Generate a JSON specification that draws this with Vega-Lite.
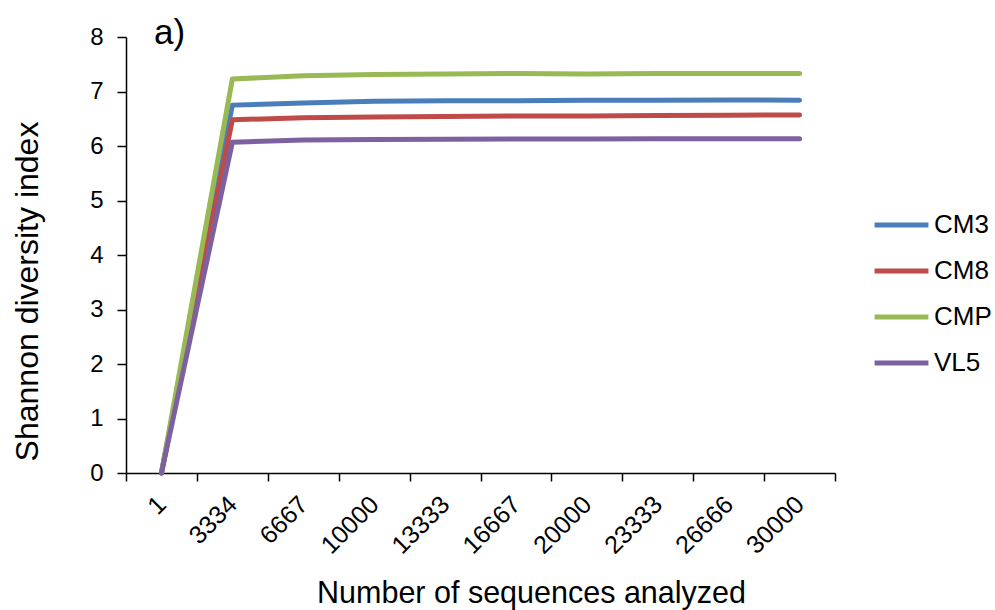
{
  "$schema": "https://vega.github.io/schema/vega-lite/v6.json",
  "autosize": "none",
  "width": 709,
  "height": 436,
  "padding": {"left": 126, "top": 37, "right": 160, "bottom": 137},
  "background": "white",
  "config": {
    "view": {"stroke": null},
    "font": "Liberation Sans",
    "axis": {"grid": false, "domainColor": "black", "tickColor": "black", "labelColor": "black", "titleColor": "black", "labelFont": "Liberation Sans", "titleFont": "Liberation Sans", "titleFontWeight": "normal", "domainWidth": 1.5, "tickWidth": 1.5, "labelOverlap": false}
  },
  "title": {"text": "a)", "anchor": "start", "frame": "group", "dx": 28, "offset": -26, "fontSize": 35, "fontWeight": "normal", "font": "Liberation Sans", "color": "black"},
  "data": {"values": [
    {"series": "CM3", "n": "1", "v": 0},
    {"series": "CM3", "n": "3334", "v": 6.75},
    {"series": "CM3", "n": "6667", "v": 6.79},
    {"series": "CM3", "n": "10000", "v": 6.82},
    {"series": "CM3", "n": "13333", "v": 6.83},
    {"series": "CM3", "n": "16667", "v": 6.83},
    {"series": "CM3", "n": "20000", "v": 6.84},
    {"series": "CM3", "n": "23333", "v": 6.84},
    {"series": "CM3", "n": "26666", "v": 6.845},
    {"series": "CM3", "n": "30000", "v": 6.84},
    {"series": "CM8", "n": "1", "v": 0},
    {"series": "CM8", "n": "3334", "v": 6.48},
    {"series": "CM8", "n": "6667", "v": 6.52},
    {"series": "CM8", "n": "10000", "v": 6.53},
    {"series": "CM8", "n": "13333", "v": 6.54},
    {"series": "CM8", "n": "16667", "v": 6.55},
    {"series": "CM8", "n": "20000", "v": 6.55},
    {"series": "CM8", "n": "23333", "v": 6.56},
    {"series": "CM8", "n": "26666", "v": 6.565},
    {"series": "CM8", "n": "30000", "v": 6.57},
    {"series": "CMP", "n": "1", "v": 0},
    {"series": "CMP", "n": "3334", "v": 7.23},
    {"series": "CMP", "n": "6667", "v": 7.29},
    {"series": "CMP", "n": "10000", "v": 7.31},
    {"series": "CMP", "n": "13333", "v": 7.32},
    {"series": "CMP", "n": "16667", "v": 7.33},
    {"series": "CMP", "n": "20000", "v": 7.32},
    {"series": "CMP", "n": "23333", "v": 7.33},
    {"series": "CMP", "n": "26666", "v": 7.33},
    {"series": "CMP", "n": "30000", "v": 7.33},
    {"series": "VL5", "n": "1", "v": 0},
    {"series": "VL5", "n": "3334", "v": 6.07},
    {"series": "VL5", "n": "6667", "v": 6.11},
    {"series": "VL5", "n": "10000", "v": 6.12},
    {"series": "VL5", "n": "13333", "v": 6.125},
    {"series": "VL5", "n": "16667", "v": 6.13},
    {"series": "VL5", "n": "20000", "v": 6.13},
    {"series": "VL5", "n": "23333", "v": 6.135},
    {"series": "VL5", "n": "26666", "v": 6.135},
    {"series": "VL5", "n": "30000", "v": 6.135}
  ]},
  "mark": {"type": "line", "strokeWidth": 5, "strokeCap": "round", "strokeJoin": "round"},
  "encoding": {
    "x": {
      "field": "n", "type": "ordinal",
      "sort": ["1","3334","6667","10000","13333","16667","20000","23333","26666","30000"],
      "scale": {"type": "band", "paddingInner": 0, "paddingOuter": 0},
      "axis": {"title": "Number of sequences analyzed", "titleFontSize": 30.5, "titleX": 405, "titleY": 129, "titleAlign": "center", "titleBaseline": "alphabetic", "labelFontSize": 25, "labelAngle": -45, "labelAlign": "right", "labelBaseline": "middle", "tickBand": "extent", "tickSize": 8, "labelPadding": 19}
    },
    "y": {
      "field": "v", "type": "quantitative",
      "scale": {"domain": [0, 8], "nice": false},
      "axis": {"title": "Shannon diversity index", "titleFontSize": 32, "titleAngle": -90, "titleX": -89, "titleY": 254, "titleAlign": "center", "titleBaseline": "alphabetic", "labelFontSize": 24, "values": [0,1,2,3,4,5,6,7,8], "tickSize": 9, "labelPadding": 14}
    },
    "color": {
      "field": "series", "type": "nominal",
      "scale": {"domain": ["CM3","CM8","CMP","VL5"], "range": ["#4A7EBB","#BE4B48","#98B954","#7D60A0"]},
      "legend": {"title": null, "orient": "none", "legendX": 746, "legendY": 170, "labelFontSize": 26, "labelColor": "black", "symbolType": "stroke", "symbolStrokeWidth": 5, "symbolSize": 2900, "rowPadding": 10, "labelOffset": 3, "clipHeight": 36, "padding": 0}
    }
  }
}
